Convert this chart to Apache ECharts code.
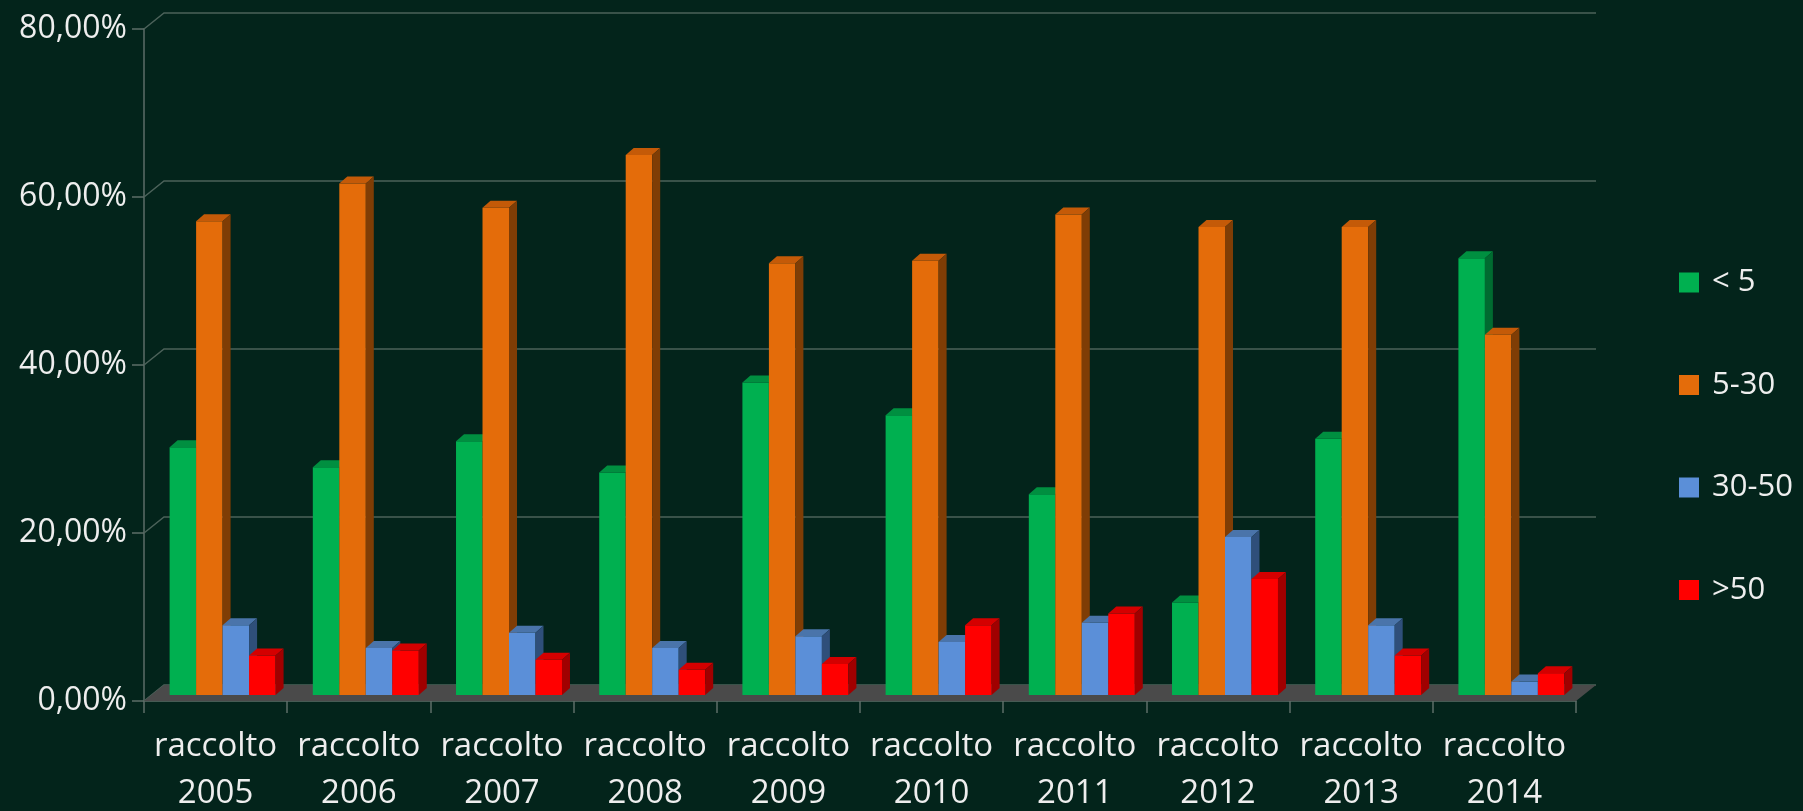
<!DOCTYPE html>
<html>
<head>
<meta charset="utf-8">
<script src="https://cdn.jsdelivr.net/npm/echarts@6/dist/echarts.min.js"></script>
<style>
  html, body { margin: 0; padding: 0; background: #03241b; }
  #chart { width: 1803px; height: 811px; }
</style>
</head>
<body>
<div id="chart"></div>
<script>
// ---- data ----
var years = ['2005', '2006', '2007', '2008', '2009', '2010', '2011', '2012', '2013', '2014'];
var categoryPrefix = 'raccolto';
var seriesNames = ['< 5', '5-30', '30-50', '>50'];
var lt5   = [29.5, 27.1, 30.2, 26.5, 37.2, 33.3, 23.9, 11.0, 30.5, 52.0];
var s5_30 = [56.4, 60.9, 58.0, 64.3, 51.4, 51.7, 57.2, 55.7, 55.7, 42.9];
var s30_50 = [8.3, 5.6, 7.4, 5.6, 7.0, 6.3, 8.6, 18.8, 8.3, 1.6];
var gt50  = [4.7, 5.3, 4.2, 3.0, 3.7, 8.3, 9.7, 13.8, 4.7, 2.6];
var yTicks = [0, 20, 40, 60, 80];

// ---- styling ----
var FONT = '"Open Sans", Lato, sans-serif';
var palette = [
  { front: '#00b050', top: '#008f40', side: '#006b30' },
  { front: '#e46c0a', top: '#c45a08', side: '#7f3d05' },
  { front: '#5b8fd8', top: '#4a74aa', side: '#2f4f7a' },
  { front: '#ff0000', top: '#d40000', side: '#a00000' }
];
var WALL_DX = 20, WALL_DY = -16;   // depth of floor / walls
var D1X = 7, D1Y = -6;             // bar front face depth
var D2X = 8, D2Y = -7;             // bar thickness
var BAR_FRAC = 0.185;              // bar width as fraction of category band
var allSeries = [lt5, s5_30, s30_50, gt50];

var categories = years.map(function (y) { return categoryPrefix + '\n' + y; });

function barRender(si) {
  var c = palette[si];
  return function (params, api) {
    var ci = api.value(0), v = api.value(1);
    var base = api.coord([ci, 0]);
    var top = api.coord([ci, v]);
    var band = api.size([1, 0])[0];
    var bw = band * BAR_FRAC;
    var x0 = base[0] - 2 * bw + si * bw + D1X;
    var x1 = x0 + bw;
    var yb = base[1] + D1Y;
    var yt = top[1] + D1Y;
    return {
      type: 'group',
      children: [
        { type: 'rect', shape: { x: x0, y: yt, width: bw, height: yb - yt }, style: { fill: c.front } },
        { type: 'polygon', shape: { points: [[x0, yt], [x1, yt], [x1 + D2X, yt + D2Y], [x0 + D2X, yt + D2Y]] }, style: { fill: c.top } },
        { type: 'polygon', shape: { points: [[x1, yt], [x1 + D2X, yt + D2Y], [x1 + D2X, yb + D2Y], [x1, yb]] }, style: { fill: c.side } }
      ]
    };
  };
}

var series = [
  {
    type: 'custom', name: 'grid', silent: true, clip: false, legendHoverLink: false,
    data: yTicks.map(function (t) { return [0, t]; }),
    renderItem: function (params, api) {
      var cs = params.coordSys;
      var y = api.coord([0, api.value(1)])[1];
      var l = cs.x, r = cs.x + cs.width;
      return {
        type: 'polyline',
        shape: { points: [[l, y], [l + WALL_DX, y + WALL_DY], [r + WALL_DX, y + WALL_DY]] },
        style: { stroke: '#4c625a', lineWidth: 1.5, fill: null }
      };
    }
  },
  {
    type: 'custom', name: 'floor', silent: true, clip: false,
    data: [[0, 0]],
    renderItem: function (params, api) {
      var cs = params.coordSys;
      var y = api.coord([0, 0])[1];
      var l = cs.x, r = cs.x + cs.width;
      return {
        type: 'polygon',
        shape: { points: [[l, y], [r, y], [r + WALL_DX, y + WALL_DY], [l + WALL_DX, y + WALL_DY]] },
        style: { fill: '#4a4a4a' }
      };
    }
  }
];

seriesNames.forEach(function (name, si) {
  series.push({
    type: 'custom',
    name: name,
    clip: false,
    itemStyle: { color: palette[si].front },
    data: allSeries[si].map(function (v, i) { return [i, v]; }),
    renderItem: barRender(si)
  });
});

var chart = echarts.init(document.getElementById('chart'));
chart.setOption({
  backgroundColor: '#03241b',
  animation: false,
  textStyle: { fontFamily: FONT },
  grid: { left: 144, right: 227, top: 29, bottom: 110, containLabel: false, outerBoundsMode: 'none' },
  legend: {
    data: seriesNames,
    orient: 'vertical',
    left: 1674,
    top: 262,
    itemWidth: 20,
    itemHeight: 20,
    itemGap: 71.5,
    icon: 'rect',
    textStyle: { color: '#eeeeee', fontSize: 31, lineHeight: 30, fontFamily: FONT, padding: [0, 0, 0, 8] }
  },
  xAxis: {
    type: 'category',
    data: categories,
    boundaryGap: true,
    axisLine: { show: true, lineStyle: { color: '#5d6d68', width: 1.5 } },
    axisTick: { show: true, length: 12, interval: 0, lineStyle: { color: '#5d6d68', width: 1.5 } },
    axisLabel: { interval: 0, color: '#eeeeee', fontSize: 33, lineHeight: 47, margin: 22, fontFamily: FONT },
    splitLine: { show: false }
  },
  yAxis: {
    type: 'value',
    min: 0, max: 80, interval: 20,
    axisLine: { show: true, lineStyle: { color: '#5d6d68', width: 1.5 } },
    axisTick: { show: true, length: 12, lineStyle: { color: '#5d6d68', width: 1.5 } },
    axisLabel: {
      color: '#eeeeee', fontSize: 32, margin: 17, fontFamily: FONT,
      formatter: function (v) { return v.toFixed(2).replace('.', ',') + '%'; }
    },
    splitLine: { show: false }
  },
  series: series
});
</script>
</body>
</html>
